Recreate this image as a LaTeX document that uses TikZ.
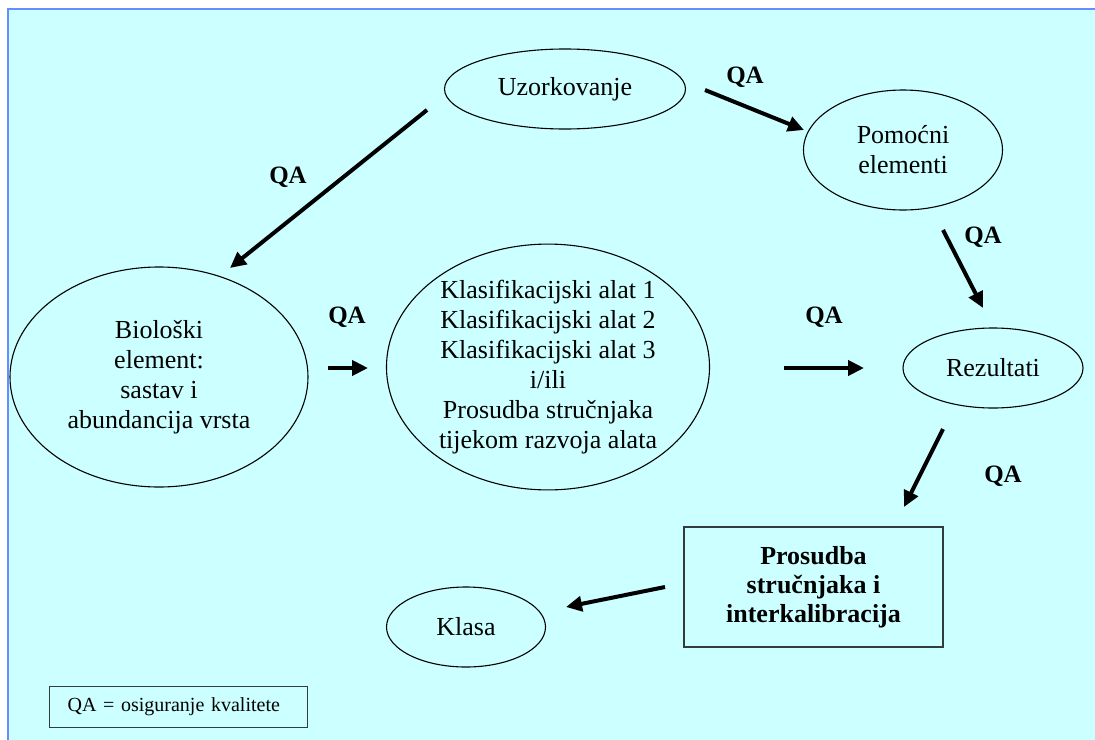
\documentclass[tikz,border=0pt]{standalone}
\usepackage{fontspec}
\setmainfont{Liberation Serif}
\usetikzlibrary{shapes.geometric,arrows.meta}
\definecolor{bgcyan}{RGB}{204,255,255}
\definecolor{frameblue}{RGB}{102,140,255}
\definecolor{boxgray}{RGB}{50,60,60}
\tikzset{
  ell/.style={ellipse, draw=black, line width=1.1pt, inner sep=0pt, align=center,
    font=\fontsize{26}{30}\selectfont},
  qa/.style={font=\fontsize{25}{28}\selectfont\bfseries, anchor=base, inner sep=0pt},
  bigarrow/.style={line width=4pt, -{Triangle[length=16pt,width=15pt]}},
}
\begin{document}
\begin{tikzpicture}[x=1pt,y=-1pt]
\useasboundingbox (0,0) rectangle (1095,739);
\fill[white] (0,0) rectangle (1095,739);
\fill[bgcyan] (8,9) rectangle (1100,745);
\draw[frameblue, line width=2pt] (8,745) -- (8,9) -- (1100,9);

% nodes
\node[ell, minimum width=241, minimum height=80] (uzor) at (565,89) {Uzorkovanje};
\node[ell, minimum width=199, minimum height=120] (pom) at (903,150) {Pomoćni\\elementi};
\node[ell, minimum width=298, minimum height=220] (bio) at (159,377) {Biološki\\element:\\sastav i\\abundancija vrsta};
\node[ell, minimum width=323, minimum height=244] (mid) at (548,367) {Klasifikacijski alat 1\\Klasifikacijski alat 2\\Klasifikacijski alat 3\\i/ili\\Prosudba stručnjaka\\tijekom razvoja alata};
\node[ell, minimum width=180, minimum height=80] (rez) at (993,368) {Rezultati};
\node[ell, minimum width=159, minimum height=80] (klasa) at (466,627) {Klasa};
\node[draw=boxgray, line width=1.5pt, minimum width=259, minimum height=120, align=center,
  font=\fontsize{26}{29}\selectfont\bfseries] (pros) at (813.5,587) {Prosudba\\stručnjaka i\\interkalibracija};
\node[draw=boxgray, line width=1.2pt, anchor=north west, minimum height=41, text width=222,
  inner xsep=18pt, align=left, font=\fontsize{20}{23}\selectfont] (legend) at (49,686) {QA = osiguranje kvalitete};

% arrow end points
\coordinate (a1s) at (427,110); \coordinate (a1e) at (230,268);
\coordinate (a2s) at (705,90);  \coordinate (a2e) at (804,130);
\coordinate (a3s) at (943,230); \coordinate (a3e) at (983,308);
\coordinate (a4s) at (328,368); \coordinate (a4e) at (368,368);
\coordinate (a5s) at (784,368); \coordinate (a5e) at (864,368);
\coordinate (a6s) at (943,429); \coordinate (a6e) at (904,507);
\coordinate (a7s) at (665,587); \coordinate (a7e) at (566,607);

\draw[bigarrow] (a1s) -- (a1e);
\draw[bigarrow] (a2s) -- (a2e);
\draw[bigarrow] (a3s) -- (a3e);
\draw[bigarrow] (a4s) -- (a4e);
\draw[bigarrow] (a5s) -- (a5e);
\draw[bigarrow] (a6s) -- (a6e);
\draw[bigarrow] (a7s) -- (a7e);

% QA labels
\node[qa] (q1) at (288,183) {QA};
\node[qa] (q2) at (745,83) {QA};
\node[qa] (q3) at (983,243) {QA};
\node[qa] (q4) at (347,323) {QA};
\node[qa] (q5) at (824,323) {QA};
\node[qa] (q6) at (1003,482) {QA};
\end{tikzpicture}
\end{document}
